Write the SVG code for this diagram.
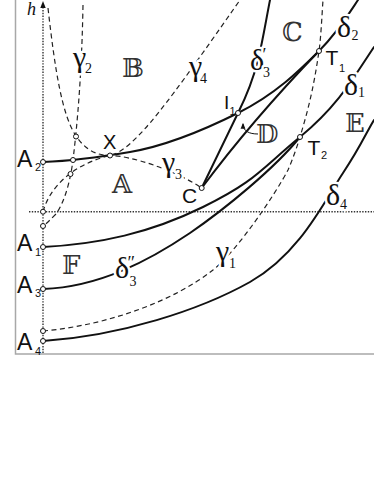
<svg xmlns="http://www.w3.org/2000/svg" width="374" height="484" viewBox="0 0 374 484">
<defs>
<style>
.frame{stroke:#a8a8a8;stroke-width:1.5;fill:none}
.dot{stroke:#333;stroke-width:1.4;stroke-dasharray:1.4 1.4;fill:none}
.solid{stroke:#111;stroke-width:2;fill:none;stroke-linecap:round}
.dash{stroke:#222;stroke-width:1.2;fill:none;stroke-dasharray:5 3.5}
.thin{stroke:#111;stroke-width:1;fill:none}
.pt{fill:#fff;stroke:#111;stroke-width:1}
.sans{font-family:"Liberation Sans",Arial,sans-serif;fill:#111}
.big{font-size:23px}
.sub{font-size:11px}
.gr{font-family:"Liberation Serif","Times New Roman",serif;fill:#111;font-size:30px;paint-order:stroke;stroke:#fff;stroke-width:5;stroke-linejoin:round}
.gs{font-size:14px}
.pr{font-size:18px}
.bb{font-family:"DejaVu Serif","DejaVu Sans",serif;font-size:26px;fill:#333}
</style>
<marker id="ah" viewBox="0 0 10 10" refX="8" refY="5" markerWidth="6" markerHeight="6" orient="auto"><path d="M0,1 L10,5 L0,9 z" fill="#111"/></marker>
</defs>
<rect x="0" y="0" width="374" height="484" fill="#fff"/>
<g id="frame">
<path class="frame" d="M15.5,0 V354 H374"/>
</g>
<g id="axes">
<line class="dot" x1="43" y1="353" x2="43" y2="8"/>
<polygon points="43,1 40.3,8 45.7,8" fill="#111"/>
<line class="dot" x1="29" y1="211.7" x2="374" y2="211.7"/>
<text x="27" y="15" font-family="Liberation Serif,serif" font-style="italic" font-size="18" fill="#111">h</text>
</g>
<g id="connectors">
<path id="delta2" class="solid" d="M43,162 C70,161 95,158 130,152 S200,132 238,113 S300,70 319,51 S350,12 358,0"/>
<path id="delta1" class="solid" d="M43,247 C100,244 150,233 203,207 S260,170 300,137 S355,75 374,47"/>
<path id="delta3b" class="solid" d="M43,289 C100,287 150,260 190,233 C225,209 275,168 300,137"/>
<path id="delta4" class="solid" d="M43,341 C120,336 200,310 250,282 C300,254 325,200 343,173 S366,133 374,120"/>
<path id="delta3a" class="solid" d="M201.7,188 L238,113 C245,99 253,80 258,60 S266,20 270,0"/>
<path id="cline" class="solid" d="M201.7,188 C230,150 265,107 319,51"/>
<path id="gamma1" class="dash" d="M43,331 C110,325 175,300 213,270 C238,250 276,193 288,170 C292,161 297,147 300,137 C306,117 313,93 319,51 C321,37 322,14 323,0"/>
<path id="gamma2" class="dash" d="M83,5 C82,60 79,110 73,160 C71,176 66,200 56,214 C50,220 46,224 43,226"/>
<path id="gamma3" class="dash" d="M48,8 C55,70 62,115 76,136 C86,151 98,155.5 110,155.5 C130,155.5 175,170 201.7,188"/>
<path id="gamma4" class="dash" d="M43,211.7 C52,180 82,162 110,155.5 C135,149.7 170,100 240,0"/>
<path id="arrowD" class="thin" d="M258,134 C249,134 243,131 243,124" marker-end="url(#ah)"/>
</g>
<g id="curve-labels">
<text class="gr" x="73" y="67">γ<tspan class="gs" x="85" y="73">2</tspan></text>
<text class="gr" x="189" y="76">γ<tspan class="gs" x="200" y="83">4</tspan></text>
<text class="gr" x="162" y="172">γ<tspan class="gs" x="175" y="179">3</tspan></text>
<text class="gr" x="216" y="261">γ<tspan class="gs" x="229" y="268">1</tspan></text>
<text class="gr" x="250" y="70">δ<tspan class="pr" x="262.5" y="61">′</tspan><tspan class="gs" x="263" y="77">3</tspan></text>
<text class="gr" x="337" y="37">δ<tspan class="gs" x="351.5" y="40">2</tspan></text>
<text class="gr" x="344" y="95">δ<tspan class="gs" x="358" y="97">1</tspan></text>
<text class="gr" x="326" y="205">δ<tspan class="gs" x="340" y="209">4</tspan></text>
<text class="gr" x="115" y="278">δ<tspan class="pr" x="127.5" y="269">″</tspan><tspan class="gs" x="129.5" y="286">3</tspan></text>
</g>
<g id="regions">
<text id="regA" class="bb" x="112" y="193">𝔸</text>
<text id="regB" class="bb" x="122" y="77">𝔹</text>
<text id="regC" class="bb" x="282" y="41">ℂ</text>
<text id="regD" class="bb" x="256" y="143">𝔻</text>
<text id="regE" class="bb" x="345" y="132">𝔼</text>
<text id="regF" class="bb" x="62" y="274">𝔽</text>
</g>
<g id="node-A2"><circle class="pt" cx="43" cy="162" r="2.5"/><text class="sans big" x="17" y="167">A</text><text class="sans sub" x="35" y="171">2</text></g>
<g id="node-A1"><circle class="pt" cx="43" cy="247" r="2.5"/><text class="sans big" x="17" y="251">A</text><text class="sans sub" x="35" y="256">1</text></g>
<g id="node-A3"><circle class="pt" cx="43" cy="289" r="2.5"/><text class="sans big" x="17" y="293">A</text><text class="sans sub" x="35" y="297">3</text></g>
<g id="node-A4"><circle class="pt" cx="43" cy="341" r="2.5"/><text class="sans big" x="17" y="350">A</text><text class="sans sub" x="35" y="355">4</text></g>
<g id="node-X"><circle class="pt" cx="110" cy="155.5" r="2.5"/><text class="sans" font-size="20" x="103" y="149">X</text></g>
<g id="node-C"><circle class="pt" cx="201.7" cy="188" r="2.5"/><text class="sans" font-size="21" x="182" y="203">C</text></g>
<g id="node-I1"><circle class="pt" cx="238" cy="113" r="2.5"/><text class="sans" font-size="19" x="224" y="109">I</text><text class="sans sub" x="229.5" y="115">1</text></g>
<g id="node-T1"><circle class="pt" cx="319" cy="51" r="2.5"/><text class="sans" font-size="21" x="325.5" y="65">T</text><text class="sans sub" x="339" y="72">1</text></g>
<g id="node-T2"><circle class="pt" cx="300" cy="137" r="2.5"/><text class="sans" font-size="21" x="307.5" y="155">T</text><text class="sans sub" x="321" y="159">2</text></g>
<g id="points">
<circle class="pt" cx="43" cy="211.7" r="2.5"/>
<circle class="pt" cx="43" cy="226" r="2.5"/>
<circle class="pt" cx="43" cy="331" r="2.5"/>
<circle class="pt" cx="76" cy="136.5" r="2.5"/>
<circle class="pt" cx="73" cy="160" r="2.5"/>
<circle class="pt" cx="70.5" cy="174" r="2.5"/>
</g>
</svg>
